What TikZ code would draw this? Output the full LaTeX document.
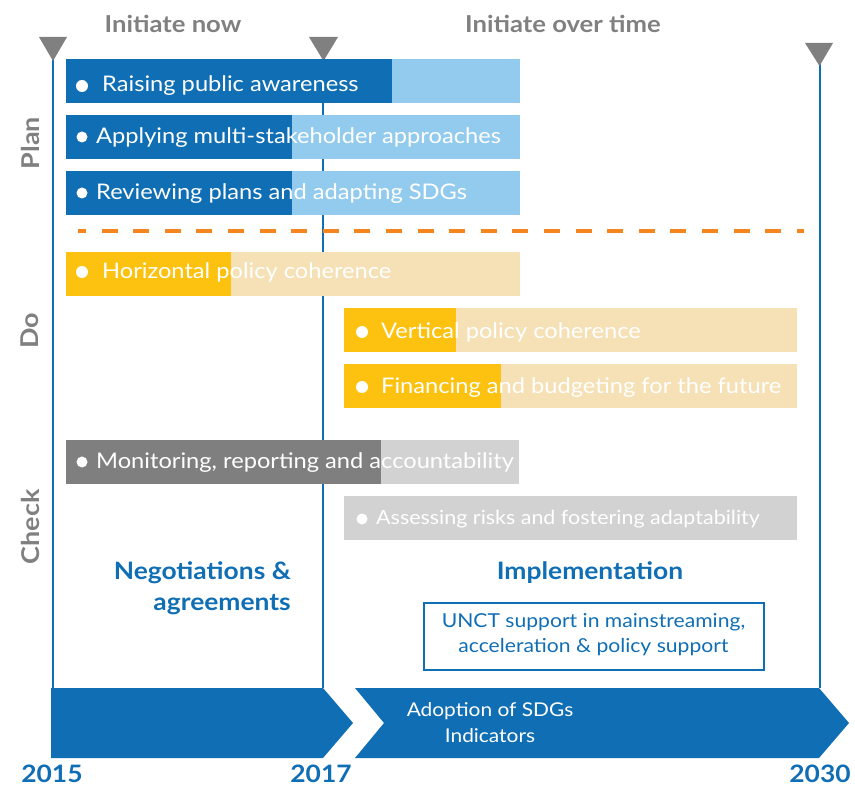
\documentclass[tikz,border=0pt]{standalone}
\usepackage{fontspec}
\setmainfont{Lato}[FakeStretch=1.1]
\definecolor{dblue}{HTML}{106EB4}
\definecolor{lblue}{HTML}{93CBEE}
\definecolor{dyel}{HTML}{FDC20F}
\definecolor{lyel}{HTML}{F5E1B5}
\definecolor{dgray}{HTML}{7F7F80}
\definecolor{lgray}{HTML}{D1D2D1}
\definecolor{orng}{HTML}{F5851F}
\definecolor{tgray}{HTML}{808080}
\begin{document}
\begin{tikzpicture}[x=1pt,y=-1pt,
  vline/.style={draw=dblue,line width=2pt},
  tri/.style={fill=tgray},
  bartext/.style={text=white,font=\fontsize{21.5}{24}\selectfont,anchor=base west,inner sep=0pt},
  smalltext/.style={text=white,font=\fontsize{19.5}{24}\selectfont,anchor=base west,inner sep=0pt},
  head/.style={text=tgray,font=\bfseries\fontsize{23.3}{26}\selectfont,anchor=base,inner sep=0pt},
  side/.style={text=tgray,font=\bfseries\fontsize{24.5}{26}\selectfont,rotate=90,inner sep=0pt},
  phase/.style={text=dblue,font=\bfseries\fontsize{24}{26}\selectfont,inner sep=0pt},
  year/.style={text=dblue,font=\bfseries\fontsize{24}{28}\selectfont,anchor=base,inner sep=0pt},
  unctext/.style={text=dblue,font=\fontsize{19.2}{24}\selectfont,anchor=base,inner sep=0pt},
  chevtext/.style={text=white,font=\fontsize{19}{24}\selectfont,anchor=base,inner sep=0pt},
  bullet/.style={fill=white}
]
\useasboundingbox (0,0) rectangle (855,786);

% timeline coordinates
\coordinate (l15t) at (52.7,58);
\coordinate (l15b) at (52.7,688);
\coordinate (l17t) at (323.3,58);
\coordinate (l17b) at (323.3,688);
\coordinate (l30t) at (820,63);
\coordinate (l30b) at (820,688);
\draw[vline] (l15t) -- (l15b);
\draw[vline] (l17t) -- (l17b);
\draw[vline] (l30t) -- (l30b);

% triangles
\fill[tri] (39,37) -- (67,37) -- (53,61) -- cycle;
\fill[tri] (309,37) -- (338,37) -- (323.5,61) -- cycle;
\fill[tri] (805,43) -- (833,43) -- (819.5,66) -- cycle;

% headers
\node[head] (hnow) at (173,33) {Initiate now};
\node[head] (hover) at (563,33) {Initiate over time};

% side labels
\node[side] (splan) at (30,143) {Plan};
\node[side] (sdo) at (30,331) {Do};
\node[side] (scheck) at (30,527) {Check};

% Plan bars
\fill[lblue] (66,59) rectangle (520,103);
\fill[dblue] (66,59) rectangle (392,103);
\fill[bullet] (82,86) circle (6);
\node[bartext] (b1) at (102,92) {Raising public awareness};

\fill[lblue] (66,115) rectangle (520,159);
\fill[dblue] (66,115) rectangle (292,159);
\fill[bullet] (82,137) circle (5.5);
\node[bartext] (b2) at (96,144) {Applying multi-stakeholder approaches};

\fill[lblue] (66,171) rectangle (520,215);
\fill[dblue] (66,171) rectangle (292,215);
\fill[bullet] (82,193) circle (5.5);
\node[bartext] (b3) at (96,200) {Reviewing plans and adapting SDGs};

% dashed separator
\coordinate (dsa) at (78,231);
\coordinate (dsb) at (804,231);
\draw[orng,line width=4pt,dash pattern=on 16pt off 15.6pt,dash phase=8pt] (dsa) -- (dsb);

% Do bars
\fill[lyel] (66,252) rectangle (520,296);
\fill[dyel] (66,252) rectangle (231,296);
\fill[bullet] (82,272) circle (6);
\node[bartext] (b4) at (102,279) {Horizontal policy coherence};

\fill[lyel] (344,308) rectangle (797,352);
\fill[dyel] (344,308) rectangle (456,352);
\fill[bullet] (362,332) circle (6);
\node[bartext] (b5) at (381,339) {Vertical policy coherence};

\fill[lyel] (344,364) rectangle (797,408);
\fill[dyel] (344,364) rectangle (501,408);
\fill[bullet] (362,387) circle (6);
\node[bartext] (b6) at (381,394) {Financing and budgeting for the future};

% Check bars
\fill[lgray] (66,440) rectangle (519,484);
\fill[dgray] (66,440) rectangle (381,484);
\fill[bullet] (82,462) circle (5.5);
\node[bartext] (b7) at (96,469) {Monitoring, reporting and accountability};

\fill[lgray] (344,496) rectangle (797,540);
\fill[bullet] (362,519) circle (5.5);
\node[smalltext] (b8) at (376,525) {Assessing risks and fostering adaptability};

% phase labels
\node[phase,anchor=base east] (neg1) at (291,579) {Negotiations \&};
\node[phase,anchor=base east] (neg2) at (291,610) {agreements};
\node[phase,anchor=base] (impl) at (590,579) {Implementation};

% UNCT box
\node[draw=dblue,line width=2pt,minimum width=340pt,minimum height=67pt,inner sep=0pt] (unct) at (593.5,636) {};
\node[unctext] (u1) at (593.5,627) {UNCT support in mainstreaming,};
\node[unctext] (u2) at (593.5,652) {acceleration \& policy support};

% bottom chevrons
\fill[dblue] (51,688) -- (323,688) -- (353,723) -- (323,758) -- (51,758) -- cycle;
\fill[dblue] (355,688) -- (819,688) -- (849,723) -- (819,758) -- (355,758) -- (384,723) -- cycle;
\node[chevtext] (c1) at (490,716) {Adoption of SDGs};
\node[chevtext] (c2) at (490,742) {Indicators};

% years
\node[year] (y15) at (52,782) {2015};
\node[year] (y17) at (321,782) {2017};
\node[year] (y30) at (820,782) {2030};
\end{tikzpicture}
\end{document}
